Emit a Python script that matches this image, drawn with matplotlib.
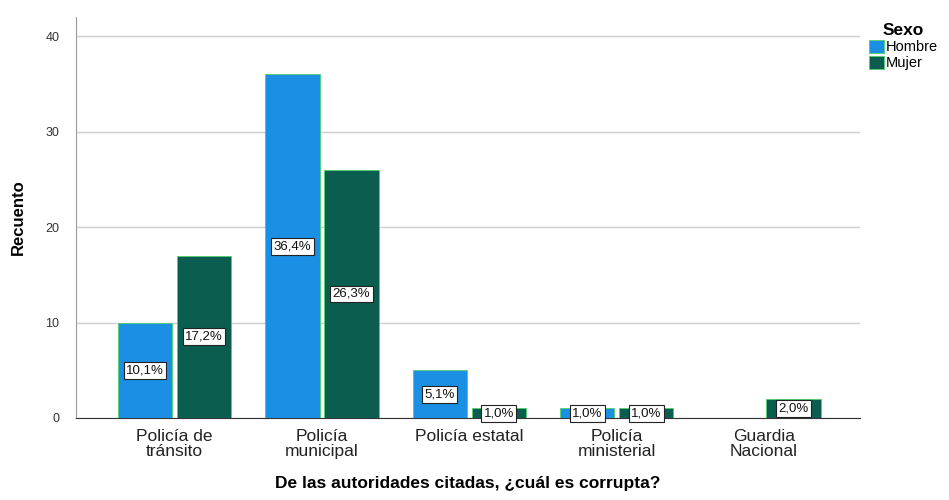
import matplotlib
matplotlib.use("Agg")
import matplotlib.pyplot as plt
import numpy as np

plt.rcParams["font.family"] = ["Liberation Sans", "DejaVu Sans"]

categories = ["Policía de\ntránsito", "Policía\nmunicipal", "Policía estatal",
              "Policía\nministerial", "Guardia\nNacional"]
hombre = [10, 36, 5, 1, 0]
mujer = [17, 26, 1, 1, 2]
series = [("Hombre", hombre, "#1a8fe3"), ("Mujer", mujer, "#0b5e4f")]

total = sum(hombre) + sum(mujer)

fig = plt.figure(figsize=(9.49, 5.0), dpi=100)
ax = fig.add_axes([0.080, 0.164, 0.826, 0.802])

x = np.arange(len(categories))
width = 0.37
offsets = [-0.2, 0.2]

for (name, vals, color), off in zip(series, offsets):
    ax.bar(x + off, vals, width, color=color, edgecolor="#4fd06a", linewidth=0.6,
           label=name, zorder=3)
    for xi, v in zip(x + off, vals):
        if v == 0:
            continue
        pct = f"{v / total * 100:.1f}%".replace(".", ",")
        ax.text(xi, v / 2, pct, ha="center", va="center", fontsize=9.5, color="#111111",
                zorder=5,
                bbox=dict(boxstyle="square,pad=0.18", facecolor="white",
                          edgecolor="#222222", linewidth=0.8))

ax.set_xlim(-0.67, 4.65)
ax.set_ylim(0, 42)
ax.set_yticks([0, 10, 20, 30, 40])
ax.yaxis.grid(True, color="#cfcfcf", linewidth=1.0, zorder=0)
ax.set_axisbelow(True)
ax.set_xticks(x)
ax.set_xticklabels(categories, fontsize=12.5, color="#222222", linespacing=1.0)
ax.tick_params(axis="both", length=0)
ax.tick_params(axis="y", labelsize=9, colors="#333333", pad=12)
ax.tick_params(axis="x", pad=8)

for side in ["top", "right"]:
    ax.spines[side].set_visible(False)
ax.spines["left"].set_color("#999999")
ax.spines["bottom"].set_color("#333333")

ax.set_ylabel("Recuento", fontsize=12, fontweight="bold", labelpad=14)
ax.set_xlabel("De las autoridades citadas, ¿cuál es corrupta?", fontsize=12.5,
              fontweight="bold", labelpad=12)

leg = fig.legend(loc="upper left", bbox_to_anchor=(0.910, 0.965), frameon=False,
                 title="Sexo", fontsize=10.5, handlelength=1.0, handleheight=1.0,
                 handletextpad=0.1, labelspacing=0.1, borderaxespad=0)
leg.get_title().set_fontweight("bold")
leg.get_title().set_fontsize(12.5)

fig.savefig("out.png", dpi=100)
